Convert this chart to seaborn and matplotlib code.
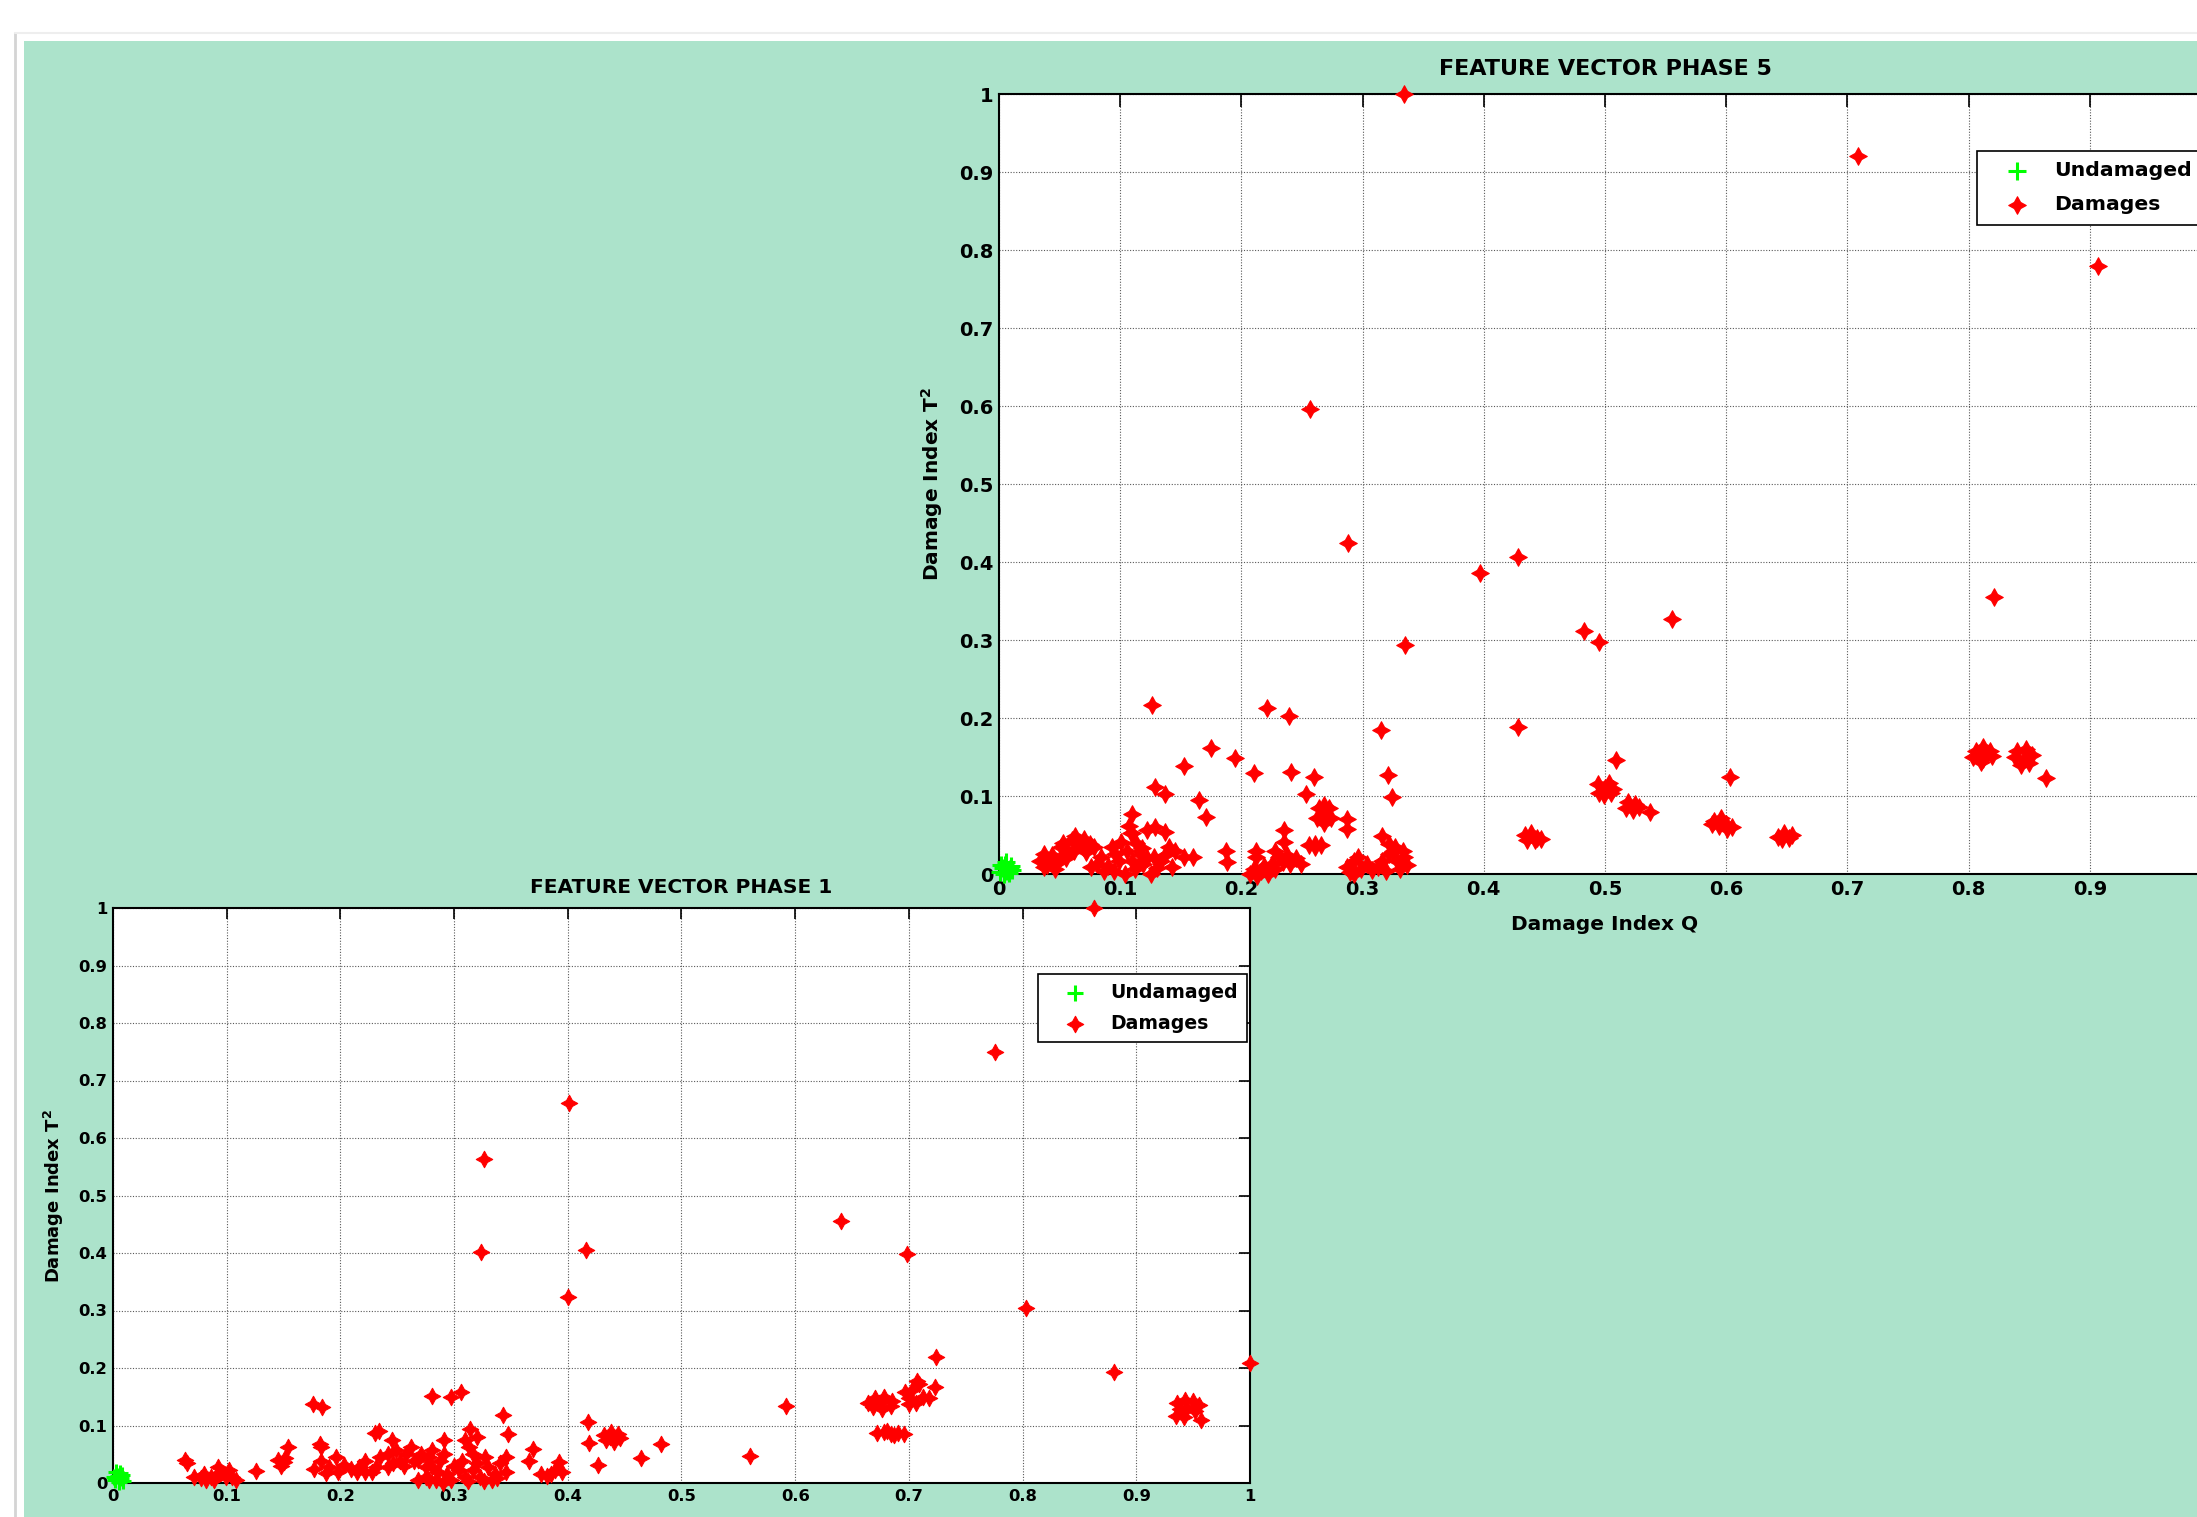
import matplotlib
matplotlib.use("Agg")
import matplotlib.pyplot as plt
import seaborn as sns
from matplotlib.patches import Rectangle
from matplotlib.lines import Line2D
from matplotlib.path import Path
from matplotlib.ticker import FuncFormatter

sns.set_style("white")
plt.rcParams["font.family"] = ["DejaVu Sans"]
plt.rcParams["font.weight"] = "bold"
plt.rcParams["mathtext.default"] = "bf"
plt.rcParams["text.color"] = "black"
plt.rcParams["axes.labelcolor"] = "black"
plt.rcParams["xtick.color"] = "black"
plt.rcParams["ytick.color"] = "black"

# ---- data ----
ticks = [0, 0.1, 0.2, 0.3, 0.4, 0.5, 0.6, 0.7, 0.8, 0.9, 1.0]

# phase 5 (top-right panel)
p5_und_x = [0.001, 0.003, 0.005, 0.007, 0.009, 0.004, 0.006, 0.002, 0.008, 0.011, 0.010]
p5_und_y = [0.002, 0.008, 0.012, 0.004, 0.007, 0.000, 0.015, 0.011, 0.001, 0.005, 0.010]

p5_dmg_x = [
    # isolated, high
    0.334, 0.709, 0.907, 0.257, 0.288, 0.397, 0.428, 0.483, 0.495, 0.555, 0.335, 0.821,
    # isolated, middle
    0.126, 0.221, 0.239, 0.315, 0.428, 0.175, 0.195, 0.153, 0.210, 0.241, 0.260, 0.321,
    0.129, 0.137, 0.253, 0.324, 0.165, 0.171, 0.110, 0.509, 0.603, 0.864,
    # isolated, low
    0.287, 0.287, 0.235, 0.235, 0.122, 0.129, 0.137, 0.110, 0.316, 0.322, 0.187, 0.188,
    0.212, 0.212, 0.153, 0.160, 0.249,
    # blobs
    0.268, 0.262, 0.274, 0.264, 0.272, 0.268, 0.268,
    0.256, 0.261, 0.266, 0.261,
    0.500, 0.495, 0.505, 0.494, 0.503, 0.507, 0.499,
    0.519, 0.525, 0.517, 0.523, 0.528, 0.537,
    0.590, 0.596, 0.594, 0.600, 0.605, 0.601, 0.588,
    0.643, 0.648, 0.654, 0.646, 0.652,
    0.806, 0.812, 0.818, 0.804, 0.812, 0.819, 0.810, 0.813,
    0.840, 0.847, 0.852, 0.838, 0.846, 0.850, 0.843,
    0.434, 0.439, 0.444, 0.436, 0.442, 0.447,
    # clusters along the floor
    0.037, 0.043, 0.037, 0.051, 0.051, 0.060, 0.063, 0.069, 0.075, 0.034, 0.046, 0.057, 0.065,
    0.040, 0.048, 0.055, 0.062, 0.070, 0.072, 0.044, 0.053, 0.078,
    0.081, 0.093, 0.101, 0.109, 0.110, 0.119, 0.104, 0.125, 0.134, 0.140, 0.143, 0.087,
    0.099, 0.116, 0.128, 0.076, 0.096,
    0.084, 0.090, 0.095, 0.106, 0.112, 0.113, 0.122, 0.130, 0.137, 0.145, 0.107, 0.118,
    0.207, 0.216, 0.225, 0.231, 0.228, 0.238, 0.213, 0.222, 0.240,
    0.219, 0.228, 0.234, 0.245, 0.210,
    0.287, 0.293, 0.299, 0.304, 0.293,
    0.316, 0.322, 0.328, 0.334, 0.319, 0.331, 0.325,
    0.296, 0.308, 0.290, 0.313, 0.337, 0.327, 0.333,
]
p5_dmg_y = [
    1.000, 0.921, 0.779, 0.596, 0.424, 0.386, 0.406, 0.311, 0.298, 0.327, 0.293, 0.355,
    0.217, 0.213, 0.203, 0.185, 0.189, 0.161, 0.149, 0.138, 0.129, 0.131, 0.124, 0.127,
    0.112, 0.103, 0.102, 0.099, 0.095, 0.073, 0.077, 0.146, 0.124, 0.123,
    0.071, 0.058, 0.056, 0.041, 0.056, 0.060, 0.054, 0.052, 0.049, 0.039, 0.030, 0.015,
    0.030, 0.022, 0.022, 0.022, 0.013,
    0.077, 0.072, 0.072, 0.084, 0.084, 0.066, 0.088,
    0.037, 0.035, 0.037, 0.039,
    0.110, 0.104, 0.104, 0.116, 0.117, 0.109, 0.101,
    0.092, 0.090, 0.085, 0.082, 0.086, 0.080,
    0.068, 0.072, 0.061, 0.064, 0.060, 0.058, 0.064,
    0.047, 0.052, 0.050, 0.045, 0.046,
    0.158, 0.163, 0.158, 0.150, 0.148, 0.151, 0.143, 0.155,
    0.158, 0.160, 0.153, 0.150, 0.148, 0.142, 0.140,
    0.050, 0.052, 0.046, 0.044, 0.043, 0.045,
    0.009, 0.017, 0.026, 0.022, 0.034, 0.043, 0.049, 0.034, 0.039, 0.017, 0.006, 0.028, 0.040,
    0.012, 0.014, 0.020, 0.030, 0.045, 0.028, 0.024, 0.040, 0.035,
    0.013, 0.034, 0.041, 0.052, 0.017, 0.013, 0.000, 0.000, 0.017, 0.034, 0.009, 0.004,
    0.017, 0.026, 0.022, 0.009, 0.026,
    0.022, 0.010, 0.004, 0.030, 0.006, 0.040, 0.020, 0.008, 0.025, 0.030, 0.062, 0.033,
    0.000, 0.004, 0.013, 0.022, 0.030, 0.024, -0.002, 0.000, 0.013,
    0.010, 0.006, 0.015, 0.020, 0.006,
    0.009, 0.017, 0.006, 0.013, 0.000,
    0.017, 0.026, 0.017, 0.022, 0.004, 0.006, 0.030,
    0.022, 0.005, 0.003, 0.009, 0.012, 0.035, 0.030,
]

# phase 1 (bottom-left panel)
p1_und_x = [0.002, 0.004, 0.006, 0.003, 0.007, 0.005, 0.008, 0.001, 0.009]
p1_und_y = [0.005, 0.012, 0.018, 0.020, 0.008, 0.002, 0.014, 0.010, 0.004]

p1_dmg_x = [
    # isolated, high
    0.863, 0.776, 0.401, 0.326, 0.324, 0.416, 0.400, 0.640, 0.698, 0.803, 0.880, 1.000,
    0.724, 0.707, 0.723, 0.592, 0.560,
    # blobs
    0.664, 0.670, 0.678, 0.685, 0.668, 0.676, 0.684, 0.674,
    0.697, 0.703, 0.700, 0.706, 0.712, 0.718, 0.700, 0.709,
    0.672, 0.678, 0.684, 0.690, 0.696, 0.681, 0.687,
    0.936, 0.943, 0.950, 0.955, 0.938, 0.945, 0.952, 0.935, 0.942, 0.957,
    0.432, 0.438, 0.444, 0.434, 0.441, 0.446, 0.437,
    # isolated, low
    0.281, 0.297, 0.306, 0.176, 0.184, 0.343, 0.347, 0.314, 0.320, 0.418, 0.419, 0.482,
    0.464, 0.427, 0.234, 0.230, 0.245, 0.291, 0.369, 0.366, 0.154, 0.182, 0.126,
    0.063, 0.065, 0.145, 0.150, 0.148, 0.151,
    # clusters along the floor
    0.071, 0.082, 0.092, 0.089, 0.099, 0.105, 0.092, 0.102, 0.086, 0.077,
    0.095, 0.080, 0.108,
    0.177, 0.183, 0.190, 0.196, 0.203, 0.209, 0.216, 0.222, 0.222, 0.231, 0.235, 0.242,
    0.242, 0.249, 0.252, 0.258, 0.262, 0.265, 0.271, 0.275, 0.275, 0.281, 0.281, 0.284,
    0.288, 0.294, 0.297, 0.304, 0.307, 0.310, 0.317, 0.317, 0.323, 0.327, 0.330, 0.336,
    0.340, 0.346, 0.346, 0.268, 0.333, 0.313, 0.310, 0.183,
    0.215, 0.228, 0.256, 0.268, 0.278, 0.286, 0.291, 0.300, 0.320, 0.312, 0.326, 0.338,
    0.290, 0.278, 0.246, 0.198, 0.187,
    0.376, 0.382, 0.389, 0.392, 0.395, 0.385,
]
p1_dmg_y = [
    1.000, 0.749, 0.661, 0.563, 0.402, 0.405, 0.324, 0.455, 0.398, 0.304, 0.193, 0.209,
    0.219, 0.178, 0.167, 0.134, 0.047,
    0.140, 0.148, 0.150, 0.143, 0.132, 0.128, 0.134, 0.140,
    0.158, 0.162, 0.148, 0.140, 0.150, 0.147, 0.137, 0.172,
    0.087, 0.088, 0.085, 0.087, 0.086, 0.090, 0.083,
    0.140, 0.145, 0.142, 0.135, 0.128, 0.130, 0.125, 0.117, 0.114, 0.110,
    0.083, 0.088, 0.085, 0.074, 0.072, 0.078, 0.080,
    0.152, 0.149, 0.159, 0.138, 0.132, 0.118, 0.086, 0.094, 0.080, 0.106, 0.070, 0.067,
    0.043, 0.031, 0.091, 0.087, 0.075, 0.074, 0.060, 0.039, 0.062, 0.068, 0.021,
    0.040, 0.035, 0.040, 0.036, 0.030, 0.044,
    0.010, 0.005, 0.016, 0.005, 0.010, 0.010, 0.028, 0.022, 0.010, 0.008,
    0.020, 0.015, 0.005,
    0.025, 0.039, 0.028, 0.045, 0.031, 0.025, 0.028, 0.039, 0.019, 0.028, 0.045, 0.051,
    0.028, 0.057, 0.039, 0.051, 0.062, 0.039, 0.051, 0.028, 0.010, 0.057, 0.028, 0.005,
    0.039, 0.016, 0.005, 0.022, 0.039, 0.010, 0.051, 0.022, 0.010, 0.045, 0.028, 0.016,
    0.034, 0.045, 0.019, 0.005, 0.005, 0.062, 0.074, 0.062,
    0.020, 0.020, 0.030, 0.040, 0.045, 0.020, 0.050, 0.030, 0.035, 0.003, 0.003, 0.008,
    0.000, 0.005, 0.035, 0.020, 0.018,
    0.016, 0.013, 0.022, 0.036, 0.019, 0.016,
]

W, H = 2197, 1517
fig = plt.figure(figsize=(W / 100, H / 100), dpi=100)
fig.patch.set_facecolor("white")

# window frame + green figure background
fig.add_artist(Line2D([15 / W, 15 / W], [0, 1 - 33 / H], transform=fig.transFigure,
                      color="#d4d4d4", lw=2.0, zorder=-3))
fig.add_artist(Line2D([15 / W, 1], [1 - 33 / H, 1 - 33 / H], transform=fig.transFigure,
                      color="#eeeeee", lw=1.5, zorder=-3))
fig.add_artist(Rectangle((24 / W, 0), 1 - 24 / W, 1 - 41 / H, transform=fig.transFigure,
                         facecolor="#ace3cb", edgecolor="none", zorder=-2))

# four-point star, like the MATLAB marker in the picture
star = Path.unit_regular_star(4, innerCircle=0.5)


def fmt(v, pos):
    return f"{v:g}"


def draw_panel(ax, und_x, und_y, dmg_x, dmg_y, title, tick_fs, lab_fs, title_fs,
               title_pad, ylabelpad, leg_anchor, leg_fs, leg_space, tick_len, ms,
               xlabel=True, hide_last_x=False):
    ax.set_facecolor("white")
    sns.scatterplot(x=und_x, y=und_y, marker="+", s=ms, color="#00ff00", linewidth=2.2,
                    ax=ax, label="Undamaged", clip_on=False, zorder=3)
    sns.scatterplot(x=dmg_x, y=dmg_y, marker=star, s=ms, color="red",
                    edgecolor="red", linewidth=0.8, ax=ax, label="Damages",
                    clip_on=False, zorder=4)
    ax.set_xlim(0, 1)
    ax.set_ylim(0, 1)
    ax.set_xticks(ticks)
    ax.set_yticks(ticks)
    if hide_last_x:
        ax.set_xticklabels([f"{v:g}" for v in ticks[:-1]] + [""])
    else:
        ax.xaxis.set_major_formatter(FuncFormatter(fmt))
    ax.yaxis.set_major_formatter(FuncFormatter(fmt))
    ax.set_axisbelow(True)
    ax.grid(True, linestyle=(0, (1, 1.5)), color="0.35", linewidth=0.8)
    for sp in ax.spines.values():
        sp.set_color("black")
        sp.set_linewidth(1.5)
    ax.tick_params(direction="in", length=tick_len, width=1.2, colors="black",
                   top=True, right=True, labelsize=tick_fs, pad=4)
    ax.set_title(title, fontsize=title_fs, fontweight="bold", pad=title_pad)
    if xlabel:
        ax.set_xlabel("Damage Index Q", fontsize=lab_fs, fontweight="bold", labelpad=12)
    else:
        ax.set_xlabel("")
    ax.set_ylabel("Damage Index T$^2$", fontsize=lab_fs, fontweight="bold", labelpad=ylabelpad)
    leg = ax.legend(loc="upper left", bbox_to_anchor=leg_anchor, bbox_transform=fig.transFigure,
                    borderaxespad=0, frameon=True, fancybox=False, framealpha=1,
                    edgecolor="black", borderpad=0.5, handlelength=2.9, handletextpad=0.4,
                    labelspacing=leg_space, prop={"size": leg_fs, "weight": "bold"})
    leg.get_frame().set_linewidth(1.2)
    leg.set_zorder(10)


# top-right panel (phase 5), its right edge runs past the picture
ax5 = fig.add_axes([999 / W, 1 - 874 / H, (2211 - 999) / W, (874 - 94) / H])
draw_panel(ax5, p5_und_x, p5_und_y, p5_dmg_x, p5_dmg_y, "FEATURE VECTOR PHASE 5",
           tick_fs=14, lab_fs=14.5, title_fs=16, title_pad=14, ylabelpad=10,
           leg_anchor=(1977 / W, 1 - 151 / H), leg_fs=14.7, leg_space=0.74,
           tick_len=9, ms=160, hide_last_x=True)

# bottom-left panel (phase 1), its bottom runs past the picture
ax1 = fig.add_axes([113 / W, 1 - 1483 / H, (1250 - 113) / W, (1483 - 908) / H])
draw_panel(ax1, p1_und_x, p1_und_y, p1_dmg_x, p1_dmg_y, "FEATURE VECTOR PHASE 1",
           tick_fs=11.8, lab_fs=13.0, title_fs=14.5, title_pad=11, ylabelpad=9,
           leg_anchor=(1038 / W, 1 - 974 / H), leg_fs=13.6, leg_space=0.6,
           tick_len=8, ms=140, xlabel=False)

fig.savefig("out.png", dpi=100)
